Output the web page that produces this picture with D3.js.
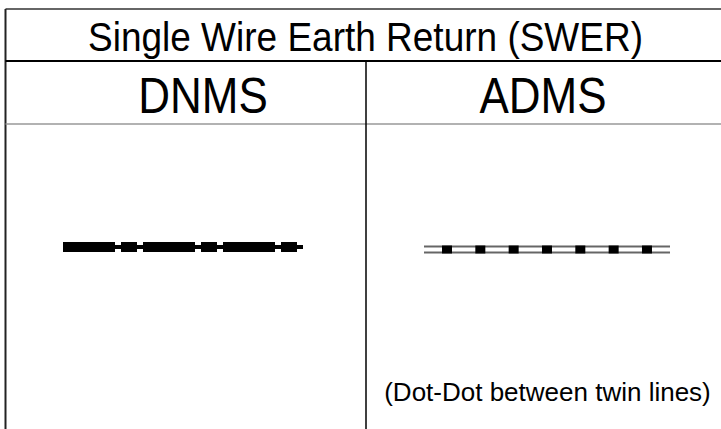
<!DOCTYPE html>
<html><head><meta charset="utf-8">
<script src="https://cdn.jsdelivr.net/npm/d3@7"></script>
<style>html,body{margin:0;padding:0;background:#fff;}svg{display:block;}</style>
</head><body>
<script>
const title = "Single Wire Earth Return (SWER)";
const columns = ["DNMS", "ADMS"];
const note = "(Dot-Dot between twin lines)";

(function () {
const W = 721, H = 429;
const svg = d3.select("body").append("svg").attr("width", W).attr("height", H);

const leftX = 5.5, topY = 9, row1 = 61, row2 = 124;
const mid = 366;
const xc = d3.scaleOrdinal().domain(columns).range([203, 543]);
const font = "Liberation Sans, Arial, sans-serif";

// borders
svg.append("line").attr("x1", leftX).attr("x2", W).attr("y1", topY).attr("y2", topY)
  .attr("stroke", "#666").attr("stroke-width", 2);
svg.append("line").attr("x1", leftX).attr("x2", leftX).attr("y1", topY).attr("y2", H)
  .attr("stroke", "#222").attr("stroke-width", 2);
svg.append("line").attr("x1", leftX).attr("x2", W).attr("y1", row1).attr("y2", row1)
  .attr("stroke", "#000").attr("stroke-width", 2);
svg.append("line").attr("x1", leftX).attr("x2", W).attr("y1", row2).attr("y2", row2)
  .attr("stroke", "#999").attr("stroke-width", 1.5);
svg.append("line").attr("x1", mid).attr("x2", mid).attr("y1", row1).attr("y2", H)
  .attr("stroke", "#000").attr("stroke-width", 1.5);

// title
svg.append("text").attr("transform", "translate(365.5,51) scale(1,1.09)")
  .attr("text-anchor", "middle")
  .attr("font-family", font).attr("font-size", 37)
  .text(title);

svg.selectAll("text.col").data(columns).enter().append("text").attr("class", "col")
  .attr("transform", d => `translate(${xc(d)},113) scale(1,1.15)`)
  .attr("text-anchor", "middle")
  .attr("font-family", font).attr("font-size", 44)
  .text(d => d);

// DNMS line
const lineGen = d3.line();
const y0 = 247;
svg.append("path").attr("d", lineGen([[63, y0], [303, y0]]))
  .attr("stroke", "#000").attr("stroke-width", 4).attr("fill", "none");
svg.append("path").attr("d", lineGen([[63, y0], [303, y0]]))
  .attr("stroke", "#000").attr("stroke-width", 10).attr("fill", "none")
  .attr("stroke-dasharray", "52 6 16 6");

// ADMS twin line
const y1 = 249.5;
svg.append("path").attr("d", lineGen([[424, y1], [670, y1]]))
  .attr("stroke", "#666").attr("stroke-width", 8).attr("fill", "none");
svg.append("path").attr("d", lineGen([[424, y1], [670, y1]]))
  .attr("stroke", "#fff").attr("stroke-width", 4).attr("fill", "none");
svg.append("path").attr("d", lineGen([[424, y1], [670, y1]]))
  .attr("stroke", "#000").attr("stroke-width", 8).attr("fill", "none")
  .attr("stroke-dasharray", "10 23.33").attr("stroke-dashoffset", -18);

svg.append("text").attr("x", 547.5).attr("y", 401).attr("text-anchor", "middle")
  .attr("font-family", font).attr("font-size", 26)
  .text(note);
})();
</script>
</body></html>
